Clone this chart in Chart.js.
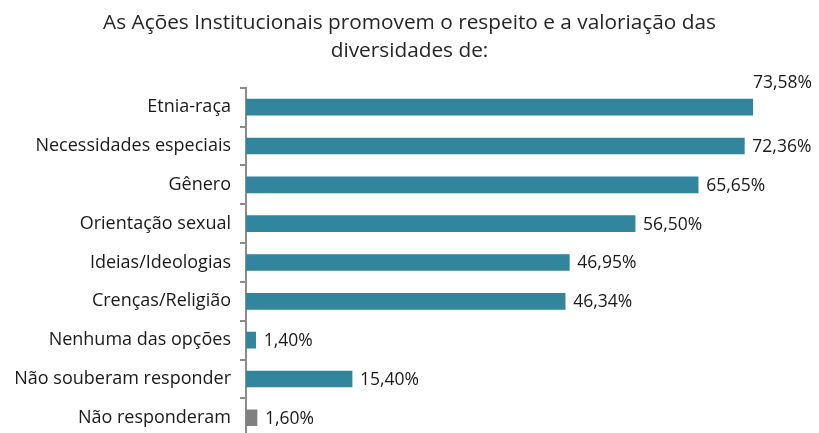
<!DOCTYPE html>
<html>
<head>
<meta charset="utf-8">
<script src="https://cdn.jsdelivr.net/npm/chart.js@4/dist/chart.umd.min.js"></script>
<style>
	html, body { margin: 0; padding: 0; background: #fff; overflow: hidden; }
</style>
</head>
<body>
<canvas id="diversidadesChart" width="819" height="457"></canvas>
<script>
// Data
var categorias = ['Etnia-raça', 'Necessidades especiais', 'Gênero', 'Orientação sexual',
	'Ideias/Ideologias', 'Crenças/Religião', 'Nenhuma das opções',
	'Não souberam responder', 'Não responderam'];
var percentuais = [73.58, 72.36, 65.65, 56.50, 46.95, 46.34, 1.40, 15.40, 1.60];
var coresBarras = ['#31859c', '#31859c', '#31859c', '#31859c', '#31859c',
	'#31859c', '#31859c', '#31859c', '#808080'];
var titulo = ['As Ações Institucionais promovem o respeito e a valoriação das', 'diversidades de:'];

var fonte = "'Open Sans', sans-serif";

// Draw the percentage labels next to each bar
var rotulosPlugin = {
	id: 'rotulos',
	afterDatasetsDraw: function(chart) {
		var ctx = chart.ctx;
		var meta = chart.getDatasetMeta(0);
		ctx.save();
		ctx.font = '17.5px ' + fonte;
		ctx.fillStyle = '#1a1a1a';
		ctx.textBaseline = 'middle';
		meta.data.forEach(function(bar, i) {
			var txt = percentuais[i].toFixed(2).replace('.', ',') + '%';
			var w = ctx.measureText(txt).width;
			if (bar.x + 8 + w > chart.width - 5) {
				ctx.textAlign = 'right';
				ctx.fillText(txt, chart.width - 7, bar.y - 24);
			} else {
				ctx.textAlign = 'left';
				ctx.fillText(txt, bar.x + 8, bar.y + 1);
			}
		});
		ctx.restore();
	}
};

var chart = new Chart(document.getElementById('diversidadesChart'), {
	type: 'bar',
	data: {
		labels: categorias,
		datasets: [{
			data: percentuais,
			backgroundColor: coresBarras,
			borderWidth: 0,
			barThickness: 16
		}]
	},
	options: {
		indexAxis: 'y',
		responsive: false,
		animation: false,
		layout: { padding: { left: 0, right: 0, top: 0, bottom: 3 } },
		plugins: {
			legend: { display: false },
			tooltip: { enabled: false },
			title: {
				display: true,
				text: titulo,
				color: '#262626',
				font: { family: fonte, size: 20.8, weight: 'normal', lineHeight: 1.34 },
				padding: { top: 9, bottom: 23 }
			}
		},
		scales: {
			x: {
				display: false,
				min: 0,
				max: 83.2
			},
			y: {
				afterFit: function(scale) { scale.width = 246; },
				grid: {
					offset: true,
					drawOnChartArea: false,
					tickLength: 6,
					color: '#8c8c8c',
					lineWidth: 2
				},
				border: { color: '#8c8c8c', width: 2 },
				ticks: {
					color: '#1a1a1a',
					padding: 9,
					font: { family: fonte, size: 18 }
				}
			}
		}
	},
	plugins: [rotulosPlugin]
});
</script>
</body>
</html>
